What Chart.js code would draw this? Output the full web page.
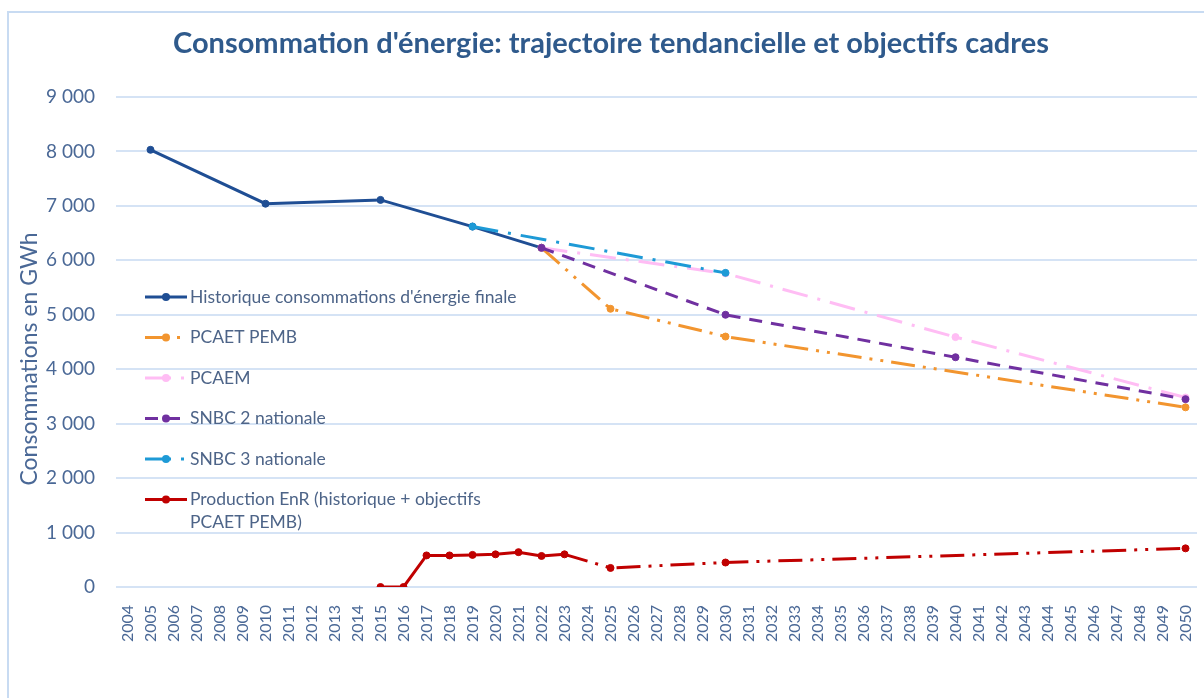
<!DOCTYPE html>
<html>
<head>
<meta charset="utf-8">
<script src="https://cdn.jsdelivr.net/npm/chart.js@4"></script>
<style>
  body { margin: 0; background: #fff; }
  #wrap { width: 1204px; height: 698px; }
</style>
</head>
<body>
<div id="wrap"><canvas id="chart" width="1204" height="698"></canvas></div>
<script>
// categories
const years = ["2004", "2005", "2006", "2007", "2008", "2009", "2010", "2011", "2012", "2013",
  "2014", "2015", "2016", "2017", "2018", "2019", "2020", "2021", "2022", "2023", "2024",
  "2025", "2026", "2027", "2028", "2029", "2030", "2031", "2032", "2033", "2034", "2035",
  "2036", "2037", "2038", "2039", "2040", "2041", "2042", "2043", "2044", "2045", "2046",
  "2047", "2048", "2049", "2050"];

// series (GWh)
const histYears = [2005, 2010, 2015, 2019, 2022];
const histValues = [8030, 7040, 7110, 6620, 6230];
const pcaetYears = [2022, 2025, 2030, 2050];
const pcaetValues = [6230, 5110, 4600, 3300];
const pcaemYears = [2022, 2030, 2040, 2050];
const pcaemValues = [6230, 5760, 4590, 3480];
const snbc2Years = [2022, 2030, 2040, 2050];
const snbc2Values = [6230, 5000, 4220, 3450];
const snbc3Years = [2019, 2030];
const snbc3Values = [6620, 5770];
const enrYears = [2015, 2016, 2017, 2018, 2019, 2020, 2021, 2022, 2023, 2025, 2030, 2050];
const enrValues = [0, 0, 580, 580, 590, 600, 640, 570, 600, 350, 450, 710];

const yMax = 9000;
const yStep = 1000;

const titleText = "Consommation d'énergie: trajectoire tendancielle et objectifs cadres";
const yTitle = "Consommations en GWh";

const textColor = "#4A6896";
const font = "Lato";

function pts(ys, vs) {
  return ys.map((y, i) => ({ x: String(y), y: vs[i] }));
}

function fmt(v) {
  return String(v).replace(/\B(?=(\d{3})+(?!\d))/g, " ");
}

const dashDotDot = [24, 8, 3, 8, 3, 8];
const dashDot = [26, 10, 3, 10];

function line(label, data, color, dash, order) {
  return {
    label: label,
    data: data,
    borderColor: color,
    backgroundColor: color,
    pointBackgroundColor: color,
    pointBorderColor: color,
    borderWidth: 3,
    borderDash: dash,
    pointRadius: 3.5,
    pointBorderWidth: 1,
    tension: 0,
    order: order
  };
}

const enrSet = line("Production EnR (historique + objectifs\nPCAET PEMB)", pts(enrYears, enrValues), "#C00000", [], 1);
enrSet.segment = {
  borderDash: ctx => ctx.p0.parsed.x >= years.indexOf("2023") ? dashDotDot : undefined
};

const datasets = [
  line("Historique consommations d'énergie finale", pts(histYears, histValues), "#1F4E94", [], 6),
  line("PCAET PEMB", pts(pcaetYears, pcaetValues), "#F2952F", dashDotDot, 5),
  line("PCAEM", pts(pcaemYears, pcaemValues), "#FFBDF4", dashDot, 4),
  line("SNBC 2 nationale", pts(snbc2Years, snbc2Values), "#7030A0", [13, 9], 3),
  line("SNBC 3 nationale", pts(snbc3Years, snbc3Values), "#1E9AD6", dashDot, 2),
  enrSet
];

const decor = {
  id: "decor",
  beforeDraw(chart) {
    const c = chart.ctx;
    c.save();
    c.fillStyle = "#fff";
    c.fillRect(0, 0, chart.width, chart.height);
    c.strokeStyle = "#C8DBF2";
    c.lineWidth = 2;
    c.strokeRect(8, 12, chart.width + 20, chart.height + 20);
    c.restore();
  },
  afterDraw(chart) {
    const c = chart.ctx;
    c.save();
    // title
    c.font = "bold 29px " + font;
    c.fillStyle = "#2F5A8C";
    c.textAlign = "center";
    c.textBaseline = "middle";
    c.fillText(titleText, 611, 44);

    // y axis title
    c.save();
    c.translate(30, 359);
    c.rotate(-Math.PI / 2);
    c.font = "23px " + font;
    c.fillStyle = textColor;
    c.fillText(yTitle, 0, 0);
    c.restore();

    // legend inside the plot
    c.font = "17.5px " + font;
    c.textAlign = "left";
    let y = 297;
    chart.data.datasets.forEach(ds => {
      c.strokeStyle = ds.borderColor;
      c.lineWidth = 3;
      c.setLineDash(ds.borderDash || []);
      c.beginPath();
      c.moveTo(145, y);
      c.lineTo(187, y);
      c.stroke();
      c.setLineDash([]);
      c.fillStyle = ds.borderColor;
      c.beginPath();
      c.arc(166, y, 4, 0, Math.PI * 2);
      c.fill();
      c.fillStyle = "#4D6488";
      ds.label.split("\n").forEach((t, i) => c.fillText(t, 190, y + i * 23));
      y += 40.5;
    });
    c.restore();
  }
};

new Chart(document.getElementById("chart"), {
  type: "line",
  data: { labels: years, datasets: datasets },
  plugins: [decor],
  options: {
    responsive: false,
    animation: false,
    layout: { padding: { left: 12, right: 7, top: 97, bottom: 10 } },
    plugins: {
      legend: { display: false },
      title: { display: false },
      tooltip: { enabled: false }
    },
    scales: {
      x: {
        offset: true,
        afterFit: s => { s.height = 101; s.paddingLeft = 0; s.paddingRight = 0; },
        grid: { display: false },
        border: { display: false },
        ticks: {
          color: textColor,
          font: { family: font, size: 16 },
          minRotation: 90,
          maxRotation: 90,
          autoSkip: false,
          padding: 10
        }
      },
      y: {
        min: 0,
        max: yMax,
        afterFit: s => { s.width = 104; },
        grid: { color: "#D5E3F5", lineWidth: 2, drawTicks: false },
        border: { display: false },
        ticks: {
          stepSize: yStep,
          color: textColor,
          font: { family: font, size: 19 },
          padding: 21,
          callback: v => fmt(v)
        }
      }
    }
  }
});
</script>
</body>
</html>
